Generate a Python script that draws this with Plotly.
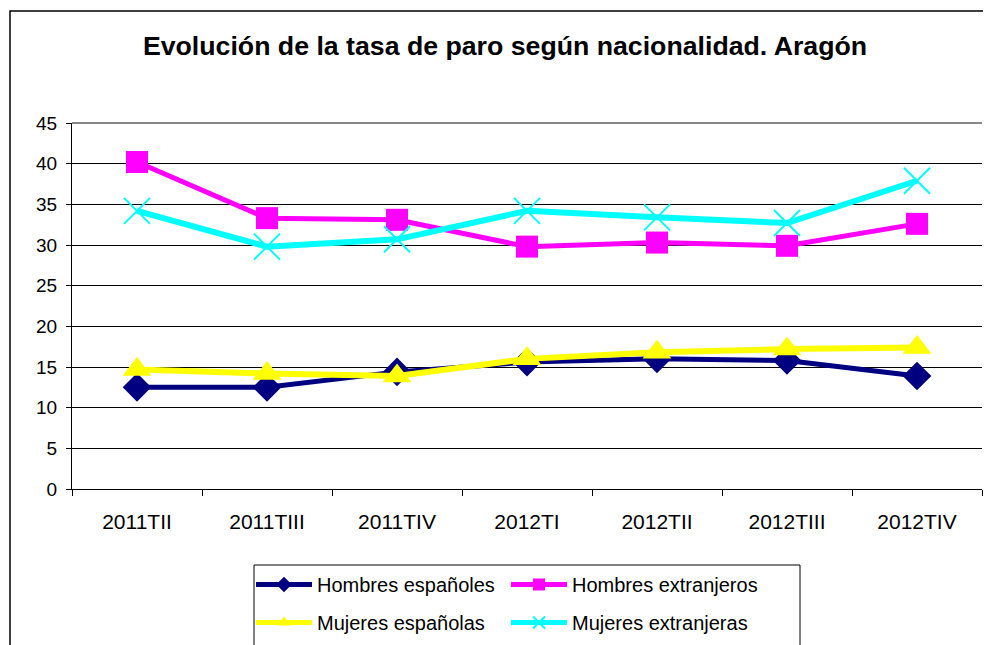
import plotly.graph_objects as go

categories = ["2011TII", "2011TIII", "2011TIV", "2012TI", "2012TII", "2012TIII", "2012TIV"]
hombres_espanoles = [12.5, 12.5, 14.4, 15.6, 16.0, 15.8, 13.9]
hombres_extranjeros = [40.2, 33.3, 33.1, 29.8, 30.3, 29.9, 32.6]
mujeres_espanolas = [14.7, 14.2, 13.9, 16.0, 16.8, 17.2, 17.4]
mujeres_extranjeras = [34.2, 29.8, 30.7, 34.2, 33.4, 32.7, 37.9]

series = [
    ("Hombres españoles", hombres_espanoles, "#000080", "diamond", 22, 5, "legend"),
    ("Hombres extranjeros", hombres_extranjeros, "#FF00FF", "square", 22, 5, "legend2"),
    ("Mujeres españolas", mujeres_espanolas, "#FFFF00", "triangle-up", 25, 6, "legend"),
    ("Mujeres extranjeras", mujeres_extranjeras, "#00FFFF", "x-thin-open", 26, 6, "legend2"),
]

fig = go.Figure()
for name, vals, color, sym, msize, lw, leg in series:
    marker = dict(symbol=sym, size=msize, color=color)
    if sym == "x-thin-open":
        marker["line"] = dict(color=color, width=2)
    fig.add_trace(go.Scatter(
        x=categories, y=vals, name=name, mode="lines+markers",
        line=dict(color=color, width=lw), marker=marker,
        legend=leg, legendgroup=name,
    ))

# page has an 8px body margin; figure pixel coords = page coords - 8
OFF = 8
W, H = 991 - OFF, 645 - OFF
L, T = 72 - OFF, 123 - OFF
R = W - (982 - OFF)
B = H - (489 - OFF)
pw, ph = W - L - R, H - T - B

def px_x(p):
    return (p - OFF - L) / pw

def px_y(p):
    return (H - B - (p - OFF)) / ph

leg_common = dict(orientation="v", yanchor="top", y=px_y(565), xanchor="left",
                  borderwidth=0, bgcolor="rgba(0,0,0,0)", font=dict(size=20),
                  tracegroupgap=9, traceorder="grouped", itemwidth=56,
                  itemsizing="constant")

fig.update_layout(
    width=W, height=H,
    margin=dict(l=L, r=R, t=T, b=B, autoexpand=False),
    paper_bgcolor="white", plot_bgcolor="white",
    font=dict(family="Liberation Sans, Arial, sans-serif", size=20, color="black"),
    title=dict(text="<b>Evolución de la tasa de paro según nacionalidad. Aragón</b>",
               x=(505 - OFF) / W, xanchor="center", y=1 - (46 - OFF) / H, yanchor="middle",
               font=dict(size=26.7, color="black")),
    xaxis=dict(type="category", showgrid=False, showline=True, linecolor="black", linewidth=1,
               ticks="outside", tickson="boundaries", ticklen=6, tickcolor="black",
               range=[-0.5, 6.5], tickfont=dict(size=21), ticklabelstandoff=14),
    yaxis=dict(range=[0, 45], dtick=5, showgrid=True, gridcolor="black", gridwidth=1,
               showline=True, linecolor="black", linewidth=1, ticks="outside", ticklen=5,
               tickcolor="black", zeroline=False, tickfont=dict(size=19), ticklabelstandoff=5),
    showlegend=True,
    legend=dict(x=px_x(251), **leg_common),
    legend2=dict(x=px_x(506), **leg_common),
    shapes=[
        dict(type="line", xref="paper", yref="paper", x0=0, x1=1, y0=1, y1=1,
             line=dict(color="#888888", width=2)),
        dict(type="rect", xref="paper", yref="paper", x0=px_x(10), x1=1.2,
             y0=-0.6, y1=px_y(11), line=dict(color="black", width=1.5), layer="below"),
        dict(type="rect", xref="paper", yref="paper", x0=px_x(254), x1=px_x(800),
             y0=px_y(660), y1=px_y(565), line=dict(color="black", width=1), layer="below"),
    ],
)

fig.write_html("out.html")
